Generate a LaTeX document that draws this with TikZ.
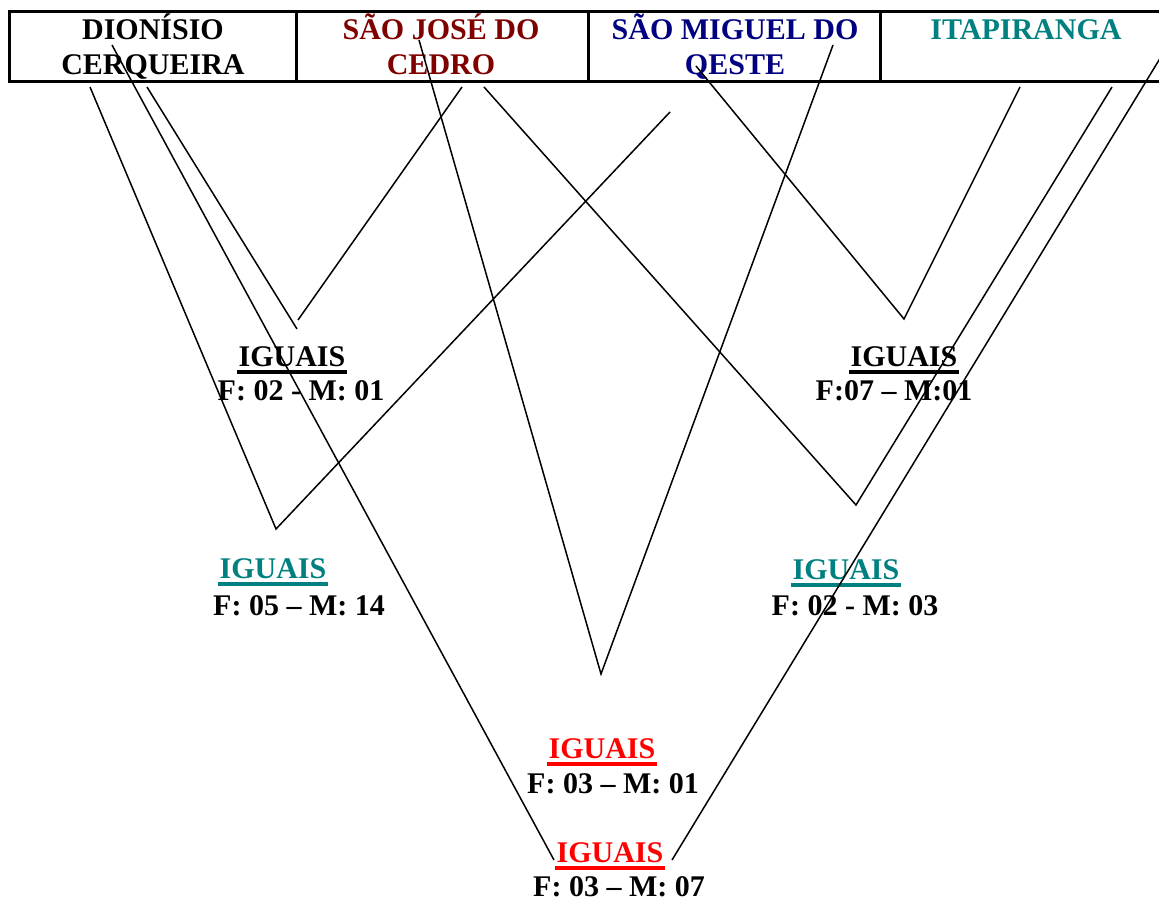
\documentclass[tikz,border=0pt]{standalone}
\usepackage{fontspec}
\setmainfont{Liberation Serif}
\usepackage{xcolor}
\usepackage{tikz}
\definecolor{cellred}{HTML}{800000}
\definecolor{cellblue}{HTML}{000080}
\definecolor{cellteal}{HTML}{008080}
\definecolor{alert}{HTML}{FF0000}

\begin{document}
\begin{tikzpicture}[x=1pt,y=-1pt,line width=1.5pt,
  every node/.style={font=\bfseries\fontsize{30}{35}\selectfont,inner sep=1pt},
  tag/.style={anchor=base},
  head/.style={anchor=base,align=center}]
  \useasboundingbox (0,0) rectangle (1159,901);
  % header row
  \draw[line width=3pt] (9,12) rectangle (1185,82);
  \foreach \x in {296,588,880} {\draw[line width=3pt] (\x,12)--(\x,82);}
  \node[head] (dc) at (153,75) {DIONÍSIO\\CERQUEIRA};
  \node[head,text=cellred] (sj) at (441,75) {SÃO JOSÉ DO\\CEDRO};
  \node[head,text=cellblue] (sm) at (735,75) {SÃO MIGUEL DO\\QESTE};
  \node[head,text=cellteal] (it) at (1026,40) {ITAPIRANGA};
  % results
  \node[tag] (t1) at (292,366) {IGUAIS};
  \node[tag] (c1) at (301,400) {F: 02 - M: 01};
  \node[tag] (t2) at (904,366) {IGUAIS};
  \node[tag] (c2) at (894,400) {F:07 -- M:01};
  \node[tag,text=cellteal] (t3) at (273,578) {IGUAIS};
  \node[tag] (c3) at (299,615) {F: 05 -- M: 14};
  \node[tag,text=cellteal] (t4) at (846,579) {IGUAIS};
  \node[tag] (c4) at (855,615) {F: 02 - M: 03};
  \node[tag,text=alert] (t5) at (602,758) {IGUAIS};
  \node[tag] (c5) at (613,793) {F: 03 -- M: 01};
  \node[tag,text=alert] (t6) at (610,862) {IGUAIS};
  \node[tag] (c6) at (619,896) {F: 03 -- M: 07};
  \foreach \n/\c in {t1/black,t2/black,t3/cellteal,t4/cellteal,t5/alert,t6/alert}
    {\draw[line width=3.8pt,\c] ([yshift=-6pt]\n.base west)--([yshift=-6pt]\n.base east);}
  % line ends
  \coordinate (a1) at (90,87);   \coordinate (va) at (276,529); \coordinate (a2) at (670,112);
  \coordinate (b1) at (147,87);  \coordinate (vb1) at (297,329);
  \coordinate (vb2) at (298,320); \coordinate (b2) at (462,87);
  \coordinate (c1e) at (419,40); \coordinate (vc) at (601,674); \coordinate (c2e) at (833,45);
  \coordinate (d1) at (696,66);  \coordinate (vd) at (904,319); \coordinate (d2) at (1020,87);
  \coordinate (e1) at (484,87);  \coordinate (ve) at (856,505); \coordinate (e2) at (1112,87);
  \coordinate (f1) at (112,45);  \coordinate (vf1) at (554,860);
  \coordinate (vf2) at (672,860); \coordinate (f2) at (1170,42);
  \draw (a1)--(va)--(a2);
  \draw (b1)--(vb1); \draw (vb2)--(b2);
  \draw (c1e)--(vc)--(c2e);
  \draw (d1)--(vd)--(d2);
  \draw (e1)--(ve)--(e2);
  \draw (f1)--(vf1); \draw (vf2)--(f2);
\end{tikzpicture}
\end{document}
